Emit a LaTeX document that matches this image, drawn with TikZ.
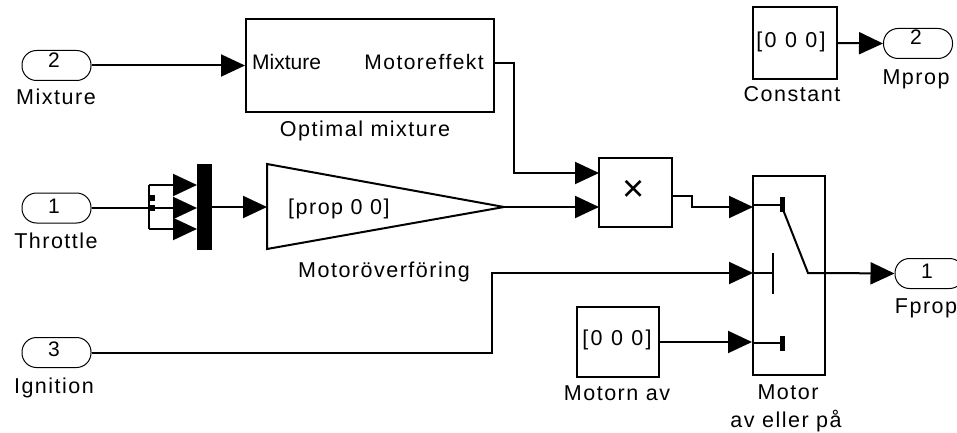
\documentclass[tikz,border=0pt]{standalone}
\usepackage{fontspec}
\setmainfont{Liberation Sans}
\newfontfamily\lblfont[LetterSpace=7]{Liberation Sans}
\newfontfamily\brfont[LetterSpace=11]{Liberation Sans}
\usetikzlibrary{arrows.meta}
\begin{document}
\begin{tikzpicture}[x=1pt,y=-1pt,
 port/.style={draw,line width=1pt,rounded corners=14.5pt,minimum width=69pt,minimum height=30pt,inner sep=0pt},
 blk/.style={draw,line width=2pt,inner sep=0pt},
 wire/.style={line width=2pt,-{Triangle[length=24pt,width=22pt]}},
 plain/.style={line width=2pt},
 lbl/.style={anchor=base,inner sep=0pt,font=\lblfont\fontsize{21.5}{22}\selectfont},
 brtxt/.style={anchor=base,inner sep=0pt,font=\brfont\fontsize{21.5}{22}\selectfont},
 txt/.style={anchor=base,inner sep=0pt,font=\fontsize{21}{22}\selectfont},
]
\useasboundingbox (0,0) rectangle (957,433);
\clip (0,0) rectangle (957,433);
% ports
\node[port] (in2) at (56.5,65.5) {};
\node[port] (in1) at (56.5,208) {};
\node[port] (in3) at (56.5,352.5) {};
\node[port] (fprop) at (929.5,273.5) {};
\node[port] (mprop) at (918,43.5) {};
\node[txt] (n2) at (54,68) {2};
\node[txt] (n1) at (54,213) {1};
\node[txt] (n3) at (54,356) {3};
\node[txt] (nf) at (927,278) {1};
\node[txt] (nm) at (916,45) {2};
% blocks
\node[blk,minimum width=248pt,minimum height=93pt] (opt) at (370,65.5) {};
\node[blk,fill=black,minimum width=13pt,minimum height=84pt] (mux) at (204.5,207) {};
\node[blk,minimum width=73pt,minimum height=69pt] (prod) at (635.5,192.5) {};
\node[blk,minimum width=72pt,minimum height=199pt] (sw) at (789,275.5) {};
\node[blk,minimum width=82pt,minimum height=70pt] (motav) at (618,342) {};
\node[blk,minimum width=84pt,minimum height=72pt] (const) at (795,43) {};
\draw[plain] (267,164) coordinate (gtop) -- (504,207) coordinate (gainout) -- (267,249) -- cycle;
\coordinate (gainin) at (267,207);
% block texts
\node[txt,anchor=base west] (tmix) at (252,70) {Mixture};
\node[lbl,anchor=base east,font=\lblfont\fontsize{21}{22}\selectfont] (tmot) at (484,70) {Motoreffekt};
\node[lbl,anchor=base west] (tgain) at (288,214) {[prop 0 0]};
\node[brtxt] (tc1) at (791,48) {[0 0 0]};
\node[brtxt] (tc2) at (617,345) {[0 0 0]};
\node[inner sep=0pt,font=\fontsize{38}{38}\selectfont] (tx) at (633.5,191) {×};
% labels
\node[lbl] (lmix) at (56,104) {Mixture};
\node[lbl] (lthr) at (56,248) {Throttle};
\node[lbl] (lign) at (54,393) {Ignition};
\node[lbl] (lopt) at (365,136) {Optimal mixture};
\node[lbl] (lgain) at (384,277) {Motoröverföring};
\node[lbl] (lmav) at (617,400) {Motorn av};
\node[lbl] (lsw1) at (788,399) {Motor};
\node[lbl] (lsw2) at (786,427) {av eller på};
\node[lbl] (lfp) at (926,313) {Fprop};
\node[lbl] (lmp) at (916,85) {Mprop};
\node[lbl] (lcon) at (792,102) {Constant};
% coordinates
\coordinate (br) at (149,208);
\coordinate (brt) at (149,185);
\coordinate (brb) at (149,229);
\coordinate (p1) at (599,173);
\coordinate (p2) at (599,207);
\coordinate (prodout) at (672,196);
\coordinate (sw1) at (753,207);
\coordinate (sw2) at (753,273);
\coordinate (swout) at (825,273);
% wires
\draw[wire] (in2.east) -- (opt.west);
\draw[plain] (in1.east) -- (br);
\draw[plain] (brt) -- (brb);
\draw[wire] (brt) -- (mux.west |- brt);
\draw[wire] (br) -- (mux.west |- br);
\draw[wire] (brb) -- (mux.west |- brb);
\fill (149,195) rectangle (155,201);
\fill (149,205) rectangle (155,211);
\draw[wire] (mux.east) -- (gainin);
\draw[wire] (opt.east |- 0,63) -- (514,63) |- (p1);
\draw[wire] (gainout) -- (p2);
\draw[wire] (prodout) -- (692,196) |- (sw1);
\draw[wire] (in3.east) -- (492,352.5) |- (sw2);
\draw[wire] (motav.east) -- (sw.west |- motav.east);
\draw[wire] (swout) -- (fprop.west);
\draw[wire] (const.east) -- (mprop.west);
% switch internals
\draw[plain] (sw.west |- 0,205) -- (782,205);
\fill (780,197) rectangle (785,212);
\draw[plain] (sw2) -- (773,273);
\draw[plain] (773,253) -- (773,294);
\draw[plain] (sw.west |- 0,343) -- (782,343);
\fill (780,336) rectangle (785,351);
\draw[plain] (782,207) -- (808,273) -- (swout);
\end{tikzpicture}
\end{document}
